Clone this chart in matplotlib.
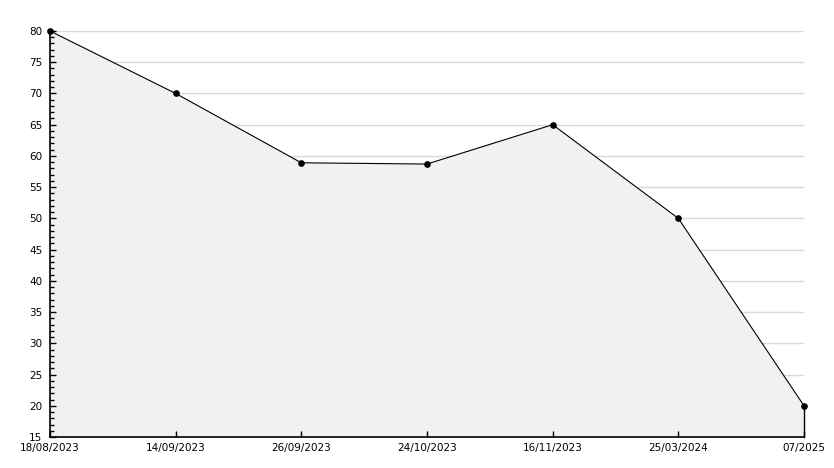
import numpy as np
import matplotlib.pyplot as plt
from matplotlib.ticker import MultipleLocator

# Data
dates = ["18/08/2023", "14/09/2023", "26/09/2023", "24/10/2023",
         "16/11/2023", "25/03/2024", "07/2025"]
values = [80, 70, 58.9, 58.7, 65, 50, 20]
y_min, y_max = 15, 80

fig = plt.figure(figsize=(8.34, 4.68), dpi=100)
ax = fig.add_axes([50 / 834, 31 / 468, 754 / 834, 406 / 468])

x = np.arange(len(dates))

# horizontal grid, drawn under the filled area (ticks stay on top)
for gy in np.arange(y_min + 5, y_max + 1, 5):
    ax.axhline(gy, color="#d9d9d9", linewidth=1.0, zorder=0.5)

ax.fill_between(x, values, y_min, facecolor="#f1f1f1", edgecolor="none",
                linewidth=0, zorder=1)
ax.plot([x[-1], x[-1]], [y_min, values[-1]], color="black", linewidth=1.0,
        zorder=4, clip_on=False)
ax.plot(x, values, color="black", linewidth=0.8, marker="o", markersize=3.8,
        markerfacecolor="black", markeredgecolor="black", zorder=5, clip_on=False)

ax.set_xlim(x[0], x[-1])
ax.set_ylim(y_min, y_max)

ax.set_xticks(x)
ax.set_xticklabels(dates)
ax.yaxis.set_major_locator(MultipleLocator(5))
ax.yaxis.set_minor_locator(MultipleLocator(1))

ax.tick_params(axis="y", which="major", direction="in", length=4, width=1,
               pad=5.5, labelsize=7.5)
ax.tick_params(axis="y", which="minor", direction="in", length=3, width=1)
ax.tick_params(axis="x", which="major", direction="in", length=4.5, width=1,
               pad=4, labelsize=7.5)
ax.xaxis.set_zorder(3)
ax.yaxis.set_zorder(3)

for side in ["top", "right"]:
    ax.spines[side].set_visible(False)
for side in ["left", "bottom"]:
    ax.spines[side].set_linewidth(1.2)
    ax.spines[side].set_zorder(6)

fig.savefig("out.png", dpi=100)
